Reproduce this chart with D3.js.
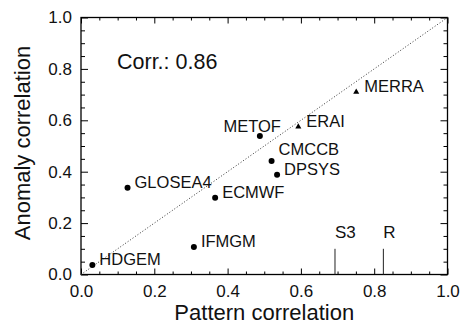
<!DOCTYPE html>
<head>
    <title>Anomaly vs pattern correlation</title>
    <style>
        body { margin: 0; background: white; }
        svg { display: block; font-family: "Liberation Sans", Arial, sans-serif; }
        .frame { fill: none; stroke: black; stroke-width: 1.3px; }
        .axis path { display: none; }
        .axis line { stroke: black; stroke-width: 1px; }
        .axis text { font-size: 17px; fill: #111; }
    </style>
    <script src="https://d3js.org/d3.v7.min.js"></script>
</head>
<body>
    <svg width="462" height="324"></svg>

    <script>
        // values
        var models   = ["HDGEM", "GLOSEA4", "IFMGM", "ECMWF", "DPSYS", "CMCCB", "METOF"];
        var modelPat = [0.031, 0.127, 0.308, 0.366, 0.535, 0.52, 0.488];
        var modelAno = [0.037, 0.338, 0.107, 0.299, 0.388, 0.442, 0.539];

        var reanal    = ["ERAI", "MERRA"];
        var reanalPat = [0.593, 0.751];
        var reanalAno = [0.575, 0.71];

        var refNames = ["S3", "R"];
        var refPat   = [0.693, 0.825];

        var ticks = [0, 0.2, 0.4, 0.6, 0.8, 1.0];
        var corrText = "Corr.: 0.86";

        var svg = d3.select("svg");
        // plot box (avoid "top", it is window.top)
        var pL = 81, pR = 447.5, pT = 17.5, pB = 274.5;

        var x = d3.scaleLinear().domain([0, 1]).range([pL, pR]);
        var y = d3.scaleLinear().domain([0, 1]).range([pB, pT]);
        var minor = d3.range(0, 1.0001, 0.05).filter(v => Math.round(v * 100) % 20 != 0);

        // minor ticks (no labels)
        svg.append("g").attr("class", "axis").attr("transform", "translate(0," + pB + ")")
            .call(d3.axisBottom(x).tickValues(minor).tickSize(-3).tickFormat(""));
        svg.append("g").attr("class", "axis").attr("transform", "translate(0," + pT + ")")
            .call(d3.axisTop(x).tickValues(minor).tickSize(-3).tickFormat(""));
        svg.append("g").attr("class", "axis").attr("transform", "translate(" + pL + ",0)")
            .call(d3.axisLeft(y).tickValues(minor).tickSize(-4).tickFormat(""));
        svg.append("g").attr("class", "axis").attr("transform", "translate(" + pR + ",0)")
            .call(d3.axisRight(y).tickValues(minor).tickSize(-4).tickFormat(""));

        // major ticks
        svg.append("g").attr("class", "axis").attr("transform", "translate(0," + pB + ")")
            .call(d3.axisBottom(x).tickValues(ticks).tickSize(-6).tickPadding(10).tickFormat(d3.format(".1f")));
        svg.append("g").attr("class", "axis").attr("transform", "translate(0," + pT + ")")
            .call(d3.axisTop(x).tickValues(ticks).tickSize(-6).tickFormat(""));
        svg.append("g").attr("class", "axis").attr("transform", "translate(" + pL + ",0)")
            .call(d3.axisLeft(y).tickValues(ticks).tickSize(-7).tickPadding(9).tickFormat(d3.format(".1f")));
        svg.append("g").attr("class", "axis").attr("transform", "translate(" + pR + ",0)")
            .call(d3.axisRight(y).tickValues(ticks).tickSize(-7).tickFormat(""));

        svg.append("rect").attr("class", "frame")
            .attr("x", pL).attr("y", pT)
            .attr("width", pR - pL).attr("height", pB - pT);

        // 1:1 line
        svg.append("line")
            .attr("x1", x(0)).attr("y1", y(0)).attr("x2", x(1)).attr("y2", y(1))
            .attr("stroke", "#333").attr("stroke-width", 1)
            .attr("stroke-dasharray", "1,2");

        // reference lines
        refNames.forEach(function (n, i) {
            svg.append("line")
                .attr("x1", x(refPat[i])).attr("x2", x(refPat[i]))
                .attr("y1", y(0)).attr("y2", y(0.1))
                .attr("stroke", "#222").attr("stroke-width", 1);
            svg.append("text")
                .attr("x", x(refPat[i])).attr("y", y(0.143))
                .attr("font-size", "17px").attr("fill", "#111")
                .text(n);
        });

        // models: dots
        models.forEach(function (n, i) {
            svg.append("circle")
                .attr("cx", x(modelPat[i])).attr("cy", y(modelAno[i])).attr("r", 3)
                .attr("fill", "black");
            var lx = x(modelPat[i]) + 7, ly = y(modelAno[i]), anchor = "start";
            if (n == "CMCCB") ly -= 6;
            if (n == "METOF") { lx = x(modelPat[i]) + 21; ly -= 4; anchor = "end"; }
            svg.append("text")
                .attr("x", lx).attr("y", ly)
                .attr("text-anchor", anchor)
                .attr("font-size", "16.5px").attr("fill", "#111")
                .text(n);
        });

        // reanalyses: triangles
        reanal.forEach(function (n, i) {
            svg.append("path")
                .attr("d", d3.symbol().type(d3.symbolTriangle).size(16)())
                .attr("transform", "translate(" + x(reanalPat[i]) + "," + y(reanalAno[i]) + ")")
                .attr("fill", "black");
            svg.append("text")
                .attr("x", x(reanalPat[i]) + 8).attr("y", y(reanalAno[i]))
                .attr("font-size", "16.5px").attr("fill", "#111")
                .text(n);
        });

        svg.append("text").attr("x", 117).attr("y", 69)
            .attr("font-size", "21.5px").attr("fill", "#111")
            .text(corrText);

        // axis titles
        svg.append("text")
            .attr("x", (pL + pR) / 2).attr("y", 319.5)
            .attr("text-anchor", "middle").attr("font-size", "22px").attr("fill", "#111")
            .text("Pattern correlation");
        svg.append("text")
            .attr("transform", "translate(30,143) rotate(-90)")
            .attr("text-anchor", "middle").attr("font-size", "22px").attr("fill", "#111")
            .text("Anomaly correlation");
    </script>
</body>
</html>
